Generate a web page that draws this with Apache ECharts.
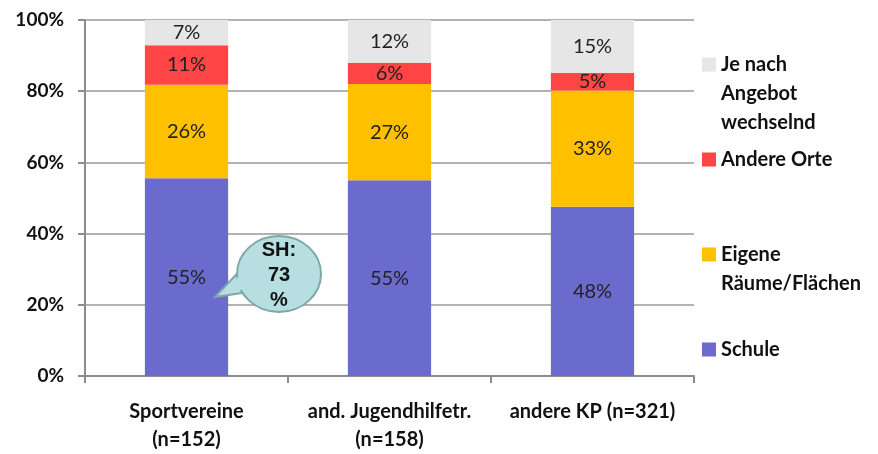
<!DOCTYPE html>
<html>
<head>
<meta charset="utf-8">
<script src="https://cdn.jsdelivr.net/npm/echarts@6/dist/echarts.min.js"></script>
<style>
  html, body { margin: 0; padding: 0; background: #fff; }
  #main { width: 878px; height: 454px; }
</style>
</head>
<body>
<div id="main"></div>
<script>
// Daten (Prozentwerte wie beschriftet)
var categories = ['Sportvereine\n(n=152)', 'and. Jugendhilfetr.\n(n=158)', 'andere KP (n=321)'];
var schule = [55, 55, 48];
var eigene = [26, 27, 33];
var andereOrte = [11, 6, 5];
var jeNach = [7, 12, 15];
var seriesNames = ['Schule', 'Eigene\nRäume/Flächen', 'Andere Orte', 'Je nach\nAngebot\nwechselnd'];
var yTicks = ['0%', '20%', '40%', '60%', '80%', '100%'];

var colors = ['#6b6bcd', '#ffc000', '#ff4545', '#e6e6e6'];
var raw = [schule, eigene, andereOrte, jeNach];

// auf 100% normieren (Balken gehen immer bis 100%)
var sums = categories.map(function (c, i) {
  return raw.reduce(function (s, arr) { return s + arr[i]; }, 0);
});

var font = 'Lato, "Open Sans", sans-serif';
var LH = 29;

var series = raw.map(function (arr, k) {
  return {
    name: seriesNames[k],
    type: 'bar',
    stack: 'total',
    barWidth: '41%',
    itemStyle: { color: colors[k] },
    label: {
      show: true,
      position: 'inside',
      color: '#222',
      fontSize: 20,
      fontFamily: font,
      formatter: function (p) { return arr[p.dataIndex] + '%'; }
    },
    data: arr.map(function (v, i) { return v / sums[i] * 100; })
  };
});

// Legenden einzeln positioniert, Kästchen auf Höhe der ersten Zeile
var legendTops = [50, 145, 240, 335];
var legends = [3, 2, 1, 0].map(function (k, j) {
  var h = seriesNames[k].split('\n').length * LH;
  return {
    data: [seriesNames[k]],
    left: 702,
    top: legendTops[j],
    padding: 0,
    orient: 'vertical',
    itemWidth: 14,
    itemHeight: h,
    icon: 'path://M0,0L0.001,0M0,7.5H14V21.5H0Z M14,' + h + 'L13.999,' + h,
    selectedMode: false,
    textStyle: {
      fontFamily: font,
      fontWeight: 'bold',
      fontSize: 20,
      color: '#111',
      lineHeight: LH
    }
  };
});

var chart = echarts.init(document.getElementById('main'));
chart.setOption({
  animation: false,
  backgroundColor: '#fff',
  grid: { left: 85, right: 184, top: 20, bottom: 74 },
  legend: legends,
  xAxis: {
    type: 'category',
    data: categories,
    axisLine: { lineStyle: { color: '#8c8c8c', width: 2 } },
    axisTick: { show: true, length: 7, lineStyle: { color: '#8c8c8c', width: 2 } },
    axisLabel: {
      interval: 0,
      margin: 22,
      color: '#111',
      fontFamily: font,
      fontWeight: 'bold',
      fontSize: 20,
      lineHeight: 28
    }
  },
  yAxis: {
    type: 'value',
    min: 0,
    max: 100,
    interval: 20,
    axisLine: { show: true, lineStyle: { color: '#8c8c8c', width: 2 } },
    axisTick: { show: true, length: 7, lineStyle: { color: '#8c8c8c', width: 2 } },
    splitLine: { lineStyle: { color: '#999', width: 1.5 } },
    axisLabel: {
      margin: 21,
      color: '#111',
      fontFamily: font,
      fontWeight: 'bold',
      fontSize: 19,
      formatter: function (v) { return yTicks[v / 20]; }
    }
  },
  graphic: [
    {
      type: 'polygon',
      z: 100,
      shape: { points: [[248, 262], [215, 297], [262, 290]] },
      style: { fill: '#b7dee0', stroke: '#7fa6a8', lineWidth: 2 }
    },
    {
      type: 'ellipse',
      z: 101,
      shape: { cx: 279, cy: 274, rx: 42, ry: 38 },
      style: { fill: '#b7dee0', stroke: '#7fa6a8', lineWidth: 2 }
    },
    {
      type: 'polygon',
      z: 102,
      shape: { points: [[250, 266], [219, 295], [258, 286]] },
      style: { fill: '#b7dee0' }
    },
    {
      type: 'text',
      z: 103,
      x: 279,
      y: 275,
      style: {
        text: 'SH:\n73\n%',
        fill: '#111',
        font: 'bold 20px Arial, "Liberation Sans", sans-serif',
        lineHeight: 25,
        align: 'center',
        verticalAlign: 'middle'
      }
    }
  ],
  series: series
});
</script>
</body>
</html>
